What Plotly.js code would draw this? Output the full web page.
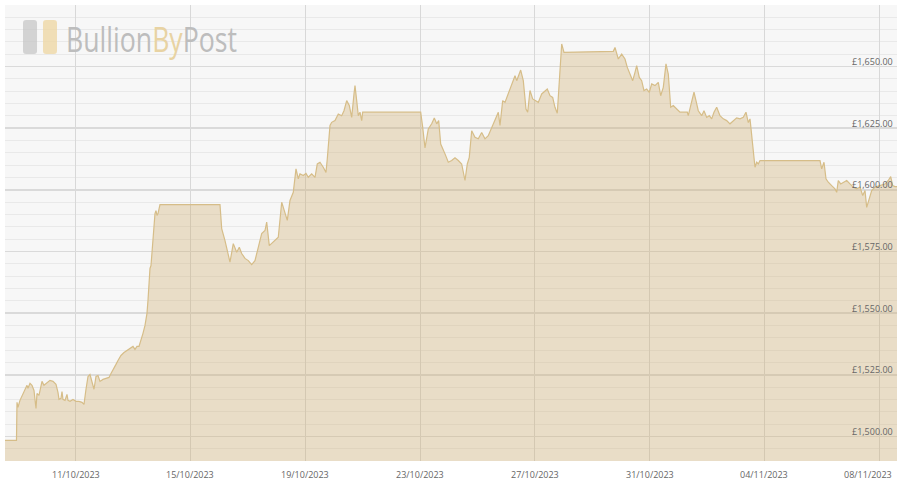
<!DOCTYPE html>
<html>
<head>
<meta charset="utf-8">
<script src="https://cdn.plot.ly/plotly-3.0.1.min.js"></script>
<style>html,body{margin:0;padding:0;background:#fff;}#chart{width:900px;height:486px;}</style>
</head>
<body>
<div id="chart"></div>
<script>
// Time in days since 2023-10-08 00:00, and gold price (GBP/oz)
const days = [
0.537,0.937,0.955,0.990,1.059,1.164,1.233,1.303,1.338,1.408,1.477,1.547,1.617,1.652,1.721,1.826,1.895,2.000,2.104,2.209,
2.314,2.383,2.418,2.488,2.523,2.557,2.627,2.697,2.732,2.801,2.906,3.010,3.115,3.220,3.289,3.359,3.429,3.498,3.568,3.638,
3.707,3.777,3.847,3.951,4.056,4.160,4.230,4.300,4.404,4.474,4.578,4.683,4.787,4.892,4.997,5.066,5.136,5.206,5.275,5.345,
5.415,5.484,5.519,5.554,5.589,5.624,5.659,5.693,5.728,5.763,5.798,5.833,5.868,5.937,8.028,8.087,8.202,8.272,8.376,8.491,
8.610,8.700,8.784,8.899,9.014,9.132,9.247,9.362,9.481,9.596,9.655,9.746,9.885,10.059,10.178,10.293,10.373,10.467,10.582,10.676,
10.756,10.815,10.930,11.024,11.105,11.223,11.338,11.418,11.512,11.627,11.721,11.767,11.861,11.920,12.035,12.150,12.268,12.348,12.443,12.533,
12.617,12.697,12.732,12.791,12.847,12.906,12.965,13.000,15.021,15.091,15.171,15.286,15.404,15.495,15.578,15.648,15.718,15.868,15.983,16.101,
16.216,16.331,16.449,16.564,16.645,16.714,16.798,16.913,17.028,17.146,17.261,17.376,17.495,17.610,17.725,17.784,17.878,17.958,18.073,18.192,
18.307,18.366,18.505,18.596,18.690,18.749,18.829,18.923,19.038,19.118,19.237,19.352,19.432,19.526,19.620,19.700,19.780,19.875,19.934,20.014,
21.732,21.791,21.906,22.024,22.139,22.220,22.314,22.408,22.488,22.547,22.638,22.721,22.801,22.895,22.986,23.070,23.185,23.300,23.383,23.474,
23.568,23.648,23.732,23.822,23.941,24.056,24.310,24.345,24.429,24.544,24.613,24.693,24.812,24.892,24.986,25.077,25.160,25.240,25.334,25.449,
25.564,25.683,25.798,25.913,26.031,26.146,26.261,26.355,26.436,26.495,26.554,26.610,26.669,26.728,26.784,26.843,28.934,28.993,29.073,29.143,
29.223,29.341,29.456,29.516,29.571,29.655,29.746,29.864,29.979,30.094,30.213,30.328,30.422,30.502,30.561,30.652,30.735,30.850,31.024,31.199,
31.314,31.397,31.467,31.547,31.617
];
const prices = [
1498.4,1498.4,1513.8,1511.8,1514.6,1517.4,1518.6,1520.7,1519.5,1521.5,1520.7,1518.6,1511.3,1517.4,1516.6,1522.3,1520.7,1521.9,1522.7,1522.3,
1521.1,1517.8,1515.0,1515.4,1518.2,1515.0,1514.6,1517.0,1514.6,1514.2,1515.0,1514.2,1514.2,1513.8,1513.0,1519.1,1524.3,1525.1,1521.9,1519.1,
1524.3,1524.7,1522.3,1523.1,1523.5,1523.9,1525.5,1526.8,1529.2,1530.8,1532.8,1534.0,1534.9,1535.7,1536.5,1535.3,1536.5,1536.5,1538.9,1541.8,
1545.0,1549.9,1555.1,1561.2,1568.1,1569.3,1575.4,1581.5,1586.7,1590.4,1591.6,1589.6,1590.4,1594.0,1594.0,1584.3,1579.4,1575.4,1570.7,1578.2,
1574.7,1576.7,1574.2,1572.2,1571.3,1569.7,1571.3,1576.7,1582.3,1583.5,1586.9,1577.4,1578.8,1580.8,1595.0,1590.9,1587.6,1595.7,1599.0,1608.5,
1604.5,1606.5,1605.8,1606.7,1605.1,1606.5,1605.1,1610.5,1611.2,1609.2,1607.1,1612.6,1626.1,1627.4,1628.1,1630.8,1630.1,1632.1,1636.2,1634.2,
1629.4,1638.9,1642.3,1636.2,1630.1,1631.5,1628.1,1631.5,1631.5,1625.4,1617.0,1624.7,1626.8,1629.2,1626.8,1628.1,1618.6,1614.6,1611.2,1611.9,
1613.0,1611.9,1610.5,1603.8,1610.5,1613.2,1624.0,1621.3,1620.7,1623.3,1620.7,1622.0,1625.4,1628.8,1631.5,1626.1,1636.2,1635.5,1638.9,1642.3,
1646.3,1644.3,1648.6,1644.3,1632.8,1631.5,1640.3,1636.9,1636.2,1635.5,1638.9,1640.3,1640.9,1638.2,1637.5,1633.5,1631.1,1648.4,1659.2,1655.8,
1656.2,1657.8,1653.1,1655.1,1653.1,1649.7,1647.0,1644.3,1647.7,1650.4,1645.6,1644.3,1640.3,1640.9,1639.6,1643.0,1642.3,1643.6,1638.2,1641.6,
1651.1,1647.0,1633.5,1634.2,1632.8,1631.5,1631.5,1630.1,1634.2,1639.6,1636.2,1632.1,1630.1,1632.1,1629.4,1630.1,1628.8,1631.5,1633.5,1630.1,
1628.8,1628.1,1626.8,1628.1,1629.2,1628.8,1629.4,1631.5,1627.3,1628.8,1621.3,1615.9,1609.2,1611.2,1610.5,1611.9,1611.9,1608.5,1611.2,1604.5,
1603.1,1601.7,1600.4,1599.0,1603.8,1602.4,1603.1,1603.8,1602.4,1601.1,1600.4,1601.1,1597.7,1599.7,1592.9,1597.0,1599.7,1601.1,1601.7,1602.4,
1603.8,1605.4,1601.7,1601.3,1601.3
];
const tickDates = ['2023-10-11','2023-10-15','2023-10-19','2023-10-23','2023-10-27','2023-10-31','2023-11-04','2023-11-08'];
const tickLabels = ['11/10/2023','15/10/2023','19/10/2023','23/10/2023','27/10/2023','31/10/2023','04/11/2023','08/11/2023'];
const priceTicks = [1500,1525,1550,1575,1600,1625,1650];
const priceLabels = ['£1,500.00','£1,525.00','£1,550.00','£1,575.00','£1,600.00','£1,625.00','£1,650.00'];

const BASE = Date.UTC(2023,9,8);
function pad(n){return (n<10?'0':'')+n;}
function fmt(d){
  const t = new Date(BASE + d*86400000);
  return t.getUTCFullYear()+'-'+pad(t.getUTCMonth()+1)+'-'+pad(t.getUTCDate())+' '+pad(t.getUTCHours())+':'+pad(t.getUTCMinutes())+':'+pad(t.getUTCSeconds());
}
const xs = days.map(fmt);

const trace = {
  x: xs, y: prices, type:'scatter', mode:'lines',
  line:{color:'#d6bd88', width:1.2},
  fill:'tozeroy', fillcolor:'rgba(205,168,100,0.32)',
  hoverinfo:'skip'
};

const annotations = [];
tickDates.forEach((d,i)=>{
  const last = i===tickDates.length-1;
  annotations.push({
    x:d, xref:'x', y:0, yref:'paper', yanchor:'top', yshift:-5,
    xanchor: last ? 'right' : 'center', xshift: last ? 15 : 0,
    text:tickLabels[i], showarrow:false,
    font:{family:'Open Sans, DejaVu Sans, sans-serif', size:9, color:'#666'}
  });
});
priceTicks.forEach((p,i)=>{
  annotations.push({
    x:1, xref:'paper', xanchor:'right', xshift:-2,
    y:p, yref:'y', yanchor:'middle', yshift:5,
    text:priceLabels[i], showarrow:false,
    font:{family:'Open Sans, DejaVu Sans, sans-serif', size:9, color:'#666'}
  });
});
annotations.push({
  x:0.066, xref:'paper', xanchor:'left', y:0.926, yref:'paper', yanchor:'middle',
  text:'Bullion<span style="color:#e8d3a3">By</span>Post', showarrow:false,
  font:{family:'Open Sans, DejaVu Sans, sans-serif', size:34, color:'#bdbdbd'}
});

function rrect(x0,x1,y0,y1){
  const rx=0.0034, ry=0.0066;
  return 'M'+(x0+rx)+','+y1+' L'+(x1-rx)+','+y1+' Q'+x1+','+y1+' '+x1+','+(y1-ry)+
    ' L'+x1+','+(y0+ry)+' Q'+x1+','+y0+' '+(x1-rx)+','+y0+' L'+(x0+rx)+','+y0+
    ' Q'+x0+','+y0+' '+x0+','+(y0+ry)+' L'+x0+','+(y1-ry)+' Q'+x0+','+y1+' '+(x0+rx)+','+y1+' Z';
}
const shapes = [
  {type:'path', xref:'paper', yref:'paper', path:rrect(0.0202,0.0359,0.8925,0.967), fillcolor:'rgba(195,195,195,0.7)', line:{width:0}},
  {type:'path', xref:'paper', yref:'paper', path:rrect(0.0426,0.0583,0.8925,0.967), fillcolor:'rgba(238,214,160,0.75)', line:{width:0}}
];

const layout = {
  width:900, height:486,
  margin:{l:5, r:3, t:5, b:25},
  paper_bgcolor:'#ffffff', plot_bgcolor:'#f7f7f7',
  showlegend:false,
  xaxis:{type:'date', range:[fmt(0.537), fmt(31.617)], tickmode:'array', tickvals:tickDates,
    showticklabels:false, ticks:'', showgrid:true, gridcolor:'#d8d8d8', gridwidth:1, zeroline:false, showline:false, fixedrange:true},
  yaxis:{range:[1490,1675], tickmode:'linear', tick0:1500, dtick:25, showticklabels:false, ticks:'',
    showgrid:true, gridcolor:'#dadada', gridwidth:1.6, zeroline:false, showline:false, fixedrange:true,
    minor:{tickmode:'linear', tick0:1500, dtick:5, showgrid:true, gridcolor:'#e9e9e9', gridwidth:1, ticks:''}},
  annotations:annotations,
  shapes:shapes,
  hovermode:false
};
Plotly.newPlot('chart',[trace],layout,{displayModeBar:false, staticPlot:true}).then(function(gd){
  // condense the watermark text horizontally to match the narrow logo lettering
  gd.querySelectorAll('text.annotation-text').forEach(function(t){
    if (t.textContent.indexOf('Bullion') === 0) {
      const b = t.getBBox();
      const s = 171 / b.width;
      t.setAttribute('transform', 'translate(' + b.x + ',0) scale(' + s + ',1) translate(' + (-b.x) + ',0)');
    }
  });
});
</script>
</body>
</html>
